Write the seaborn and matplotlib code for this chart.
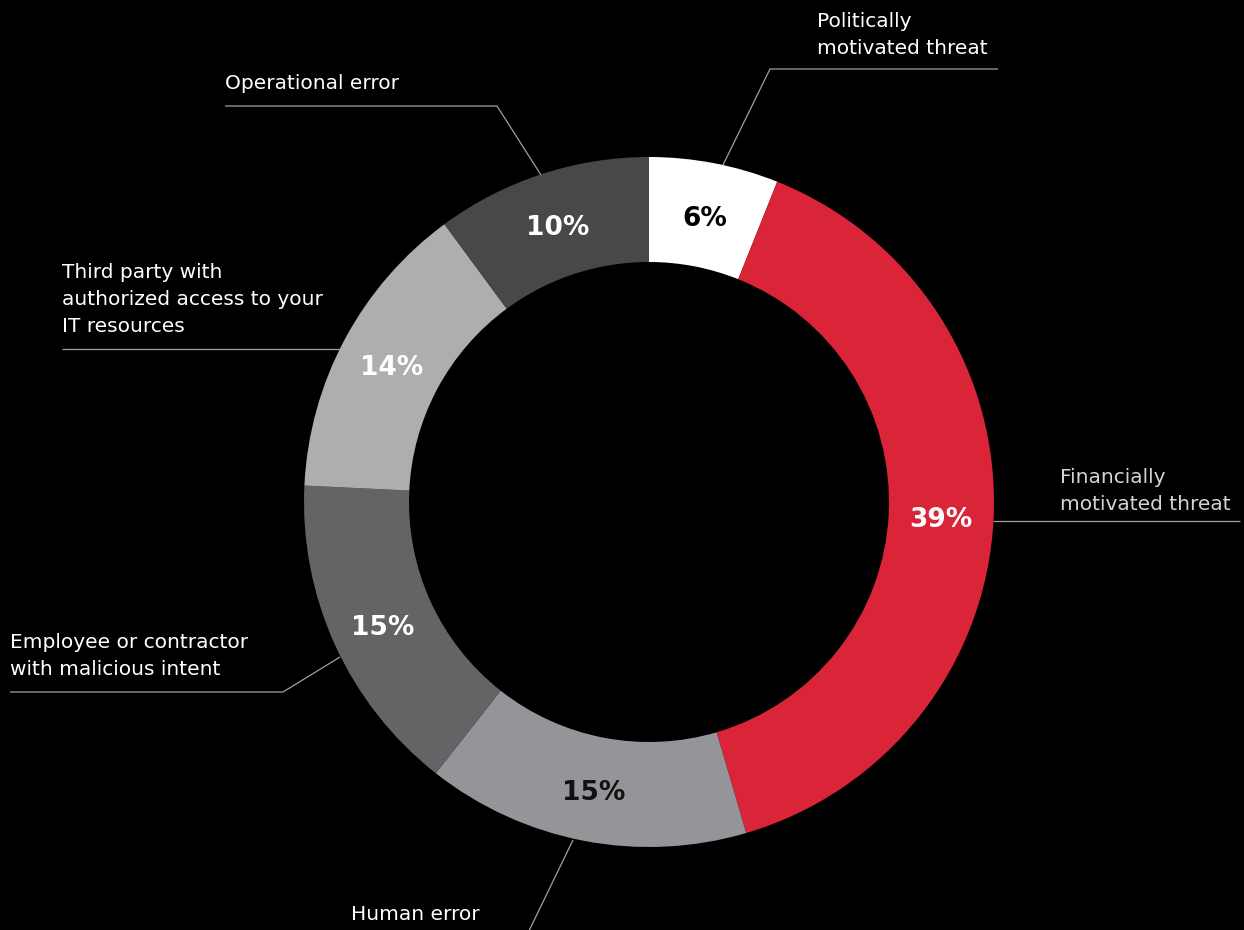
import numpy as np
import matplotlib
matplotlib.use("Agg")
import matplotlib.pyplot as plt
import seaborn as sns

# ---- data ----
categories = [
    "Politically\nmotivated threat",
    "Financially\nmotivated threat",
    "Human error",
    "Employee or contractor\nwith malicious intent",
    "Third party with\nauthorized access to your\nIT resources",
    "Operational error",
]
values = [6, 39, 15, 15, 14, 10]
pct_labels = ["6%", "39%", "15%", "15%", "14%", "10%"]
colors = ["#FFFFFF", "#D92537", "#939598", "#636466", "#ADAEB0", "#48484A"]
pct_colors = ["#000000", "#FFFFFF", "#111111", "#FFFFFF", "#FFFFFF", "#FFFFFF"]
label_colors = ["#FFFFFF", "#D4D4D4", "#FFFFFF", "#FFFFFF", "#FFFFFF", "#FFFFFF"]

sns.set_style("dark")
plt.rcParams["font.family"] = ["DejaVu Sans"]

W, H = 1244, 930
fig = plt.figure(figsize=(W / 100, H / 100), dpi=100, facecolor="black")
ax = fig.add_axes([0, 0, 1, 1])
ax.set_facecolor("black")

def Y(py):
    return H - py

cx, cy = 649, Y(502)
R_out, ring_w = 345, 105

wedges, _ = ax.pie(values, colors=colors, startangle=90, counterclock=False,
                   center=(cx, cy), radius=R_out,
                   wedgeprops=dict(width=ring_w, linewidth=0))

r_mid = R_out - ring_w / 2
for w, lab, c in zip(wedges, pct_labels, pct_colors):
    ang = np.deg2rad((w.theta1 + w.theta2) / 2)
    ax.text(cx + r_mid * np.cos(ang), cy + r_mid * np.sin(ang) - 4, lab,
            ha="center", va="center", fontsize=19, fontweight="bold", color=c)

# leader lines (pixel layout)
leaders = [
    [(723, 165), (770, 69), (998, 69)],
    [(993, 521), (1240, 521)],
    [(573, 840), (527, 935)],
    [(340, 657), (283, 692), (10, 692)],
    [(340, 349), (62, 349)],
    [(541, 175), (497, 106), (225, 106)],
]
for pts in leaders:
    xs = [p[0] for p in pts]
    ys = [Y(p[1]) for p in pts]
    ax.plot(xs, ys, color="#A0A0A0", lw=0.9, solid_capstyle="butt")

# first-line baseline position of each label (pixels)
label_pos = [(817, 27), (1060, 483), (351, 920), (10, 648), (62, 278), (225, 89)]
line_step = 27
for lab, (px, py), c in zip(categories, label_pos, label_colors):
    for i, line in enumerate(lab.split("\n")):
        ax.text(px, Y(py + i * line_step), line, ha="left", va="baseline",
                fontsize=14.5, color=c)

ax.set_xlim(0, W)
ax.set_ylim(0, H)
ax.set_aspect("equal", adjustable="box")
ax.axis("off")

fig.savefig("out.png", dpi=100, facecolor="black")
